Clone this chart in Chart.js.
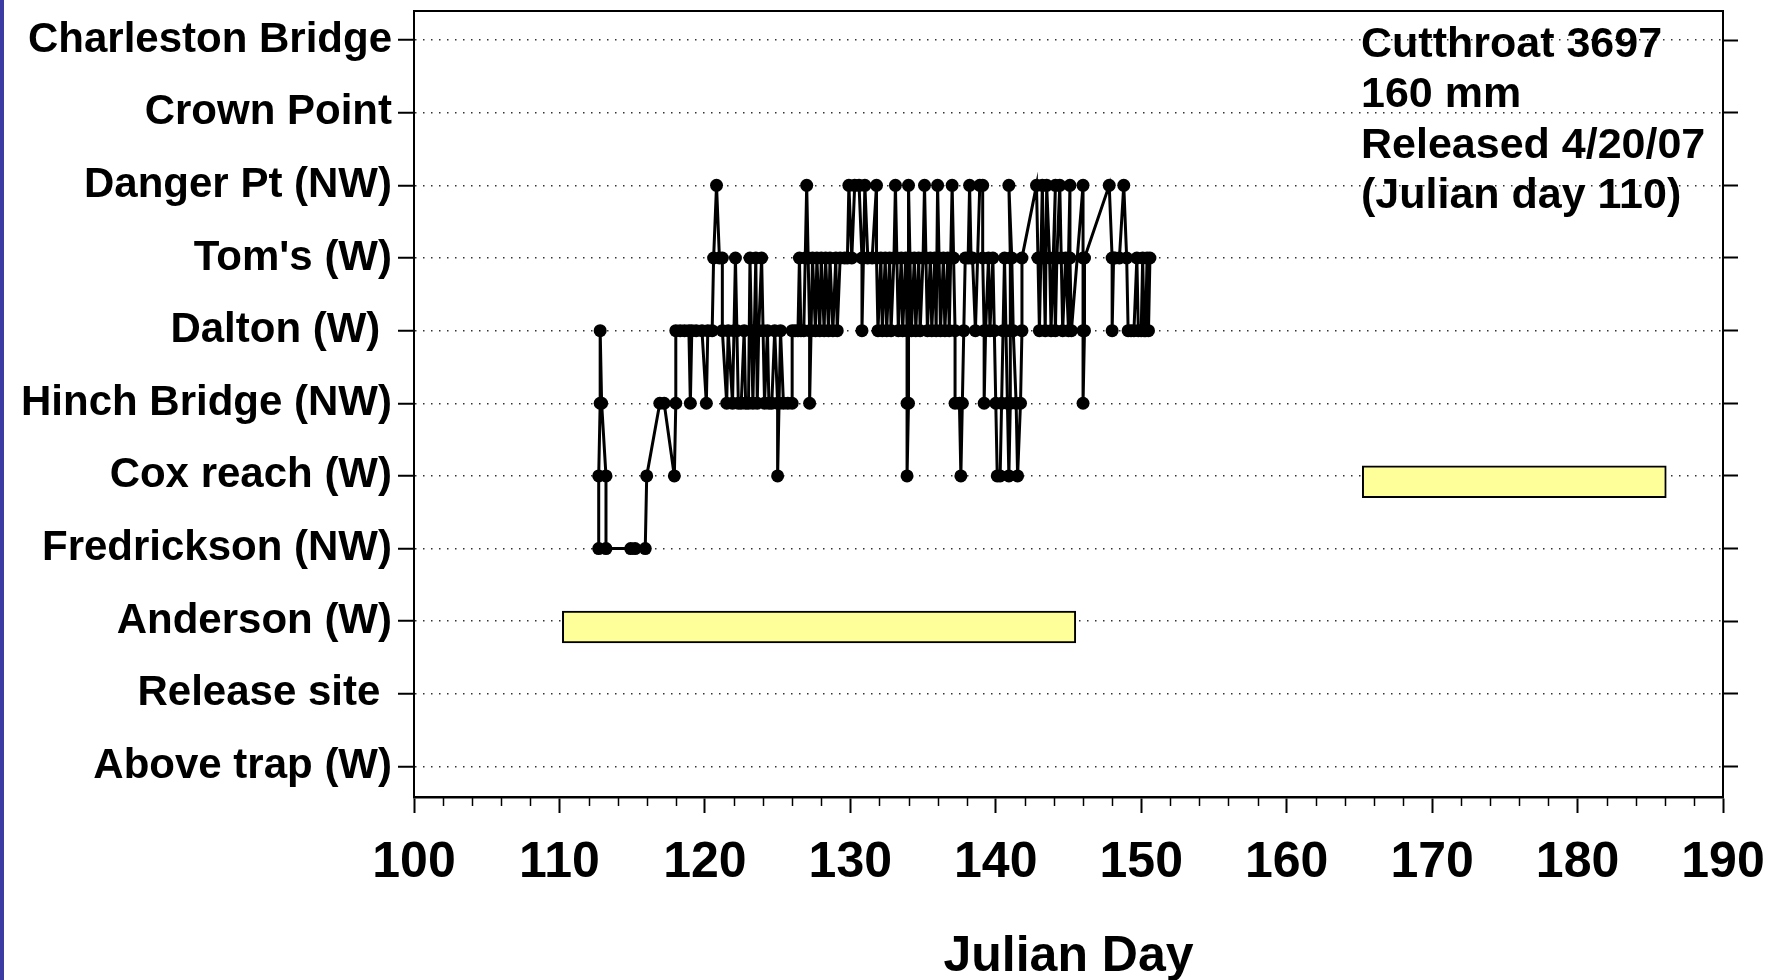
<!DOCTYPE html>
<html>
<head>
<meta charset="utf-8">
<script src="https://cdn.jsdelivr.net/npm/chart.js@4.4.1/dist/chart.umd.min.js"></script>
<style>
  html, body { margin: 0; padding: 0; background: #fff; }
  #wrap { position: relative; width: 1775px; height: 980px; }
  #strip { position: absolute; left: 0; top: 0; width: 4px; height: 980px; background: #3b3ba3; }
</style>
</head>
<body>
<div id="wrap">
  <canvas id="chart" width="1775" height="980"></canvas>
  <div id="strip"></div>
</div>
<script>
// site names, bottom (0) to top (10)
const siteLabels = [
  "Above trap (W)",
  "Release site ",
  "Anderson (W)",
  "Fredrickson (NW)",
  "Cox reach (W)",
  "Hinch Bridge (NW)",
  "Dalton (W) ",
  "Tom's (W)",
  "Danger Pt (NW)",
  "Crown Point",
  "Charleston Bridge"
];

const xTicks = [100, 110, 120, 130, 140, 150, 160, 170, 180, 190];

// detections: julian day and site index (3 Fred, 4 Cox, 5 Hinch, 6 Dalton, 7 Tom's, 8 Danger)
const trackDays = [
  112.7, 112.7, 112.8, 112.8, 112.9, 113.2, 113.2, 114.9, 115.2, 115.9,
  116.0, 116.9, 117.2, 117.9, 118.0, 118.0, 118.3, 118.6, 118.9, 119.0,
  119.1, 119.4, 119.8, 120.1, 120.2, 120.5, 120.6, 120.8, 121.0, 121.2,
  121.2, 121.5, 121.6, 121.9, 122.0, 122.1, 122.2, 122.3, 122.5, 122.7,
  122.8, 123.0, 123.1, 123.2, 123.3, 123.4, 123.5, 123.6, 123.7, 123.9,
  124.0, 124.1, 124.3, 124.4, 124.6, 124.8, 125.0, 125.0, 125.1, 125.2,
  125.4, 125.7, 126.0, 126.0, 126.2, 126.4, 126.5, 126.6, 126.8, 126.9,
  127.0, 127.1, 127.2, 127.2, 127.3, 127.4, 127.6, 127.7, 127.9, 128.0,
  128.2, 128.3, 128.5, 128.6, 128.8, 129.0, 129.1, 129.3, 129.6, 129.8,
  129.9, 130.1, 130.3, 130.6, 130.8, 130.8, 130.9, 131.0, 131.2, 131.5,
  131.8, 131.8, 131.9, 132.1, 132.2, 132.4, 132.5, 132.7, 132.8, 133.0,
  133.1, 133.2, 133.3, 133.5, 133.6, 133.8, 133.9, 133.9, 133.9, 134.0,
  134.0, 134.0, 134.0, 134.1, 134.2, 134.4, 134.5, 134.7, 134.8, 135.0,
  135.1, 135.2, 135.3, 135.5, 135.6, 135.8, 135.9, 136.0, 136.1, 136.2,
  136.4, 136.5, 136.7, 136.8, 137.0, 137.1, 137.2, 137.2, 137.5, 137.6,
  137.7, 137.8, 137.9, 138.1, 138.2, 138.3, 138.4, 138.6, 138.9, 139.1,
  139.1, 139.2, 139.2, 139.3, 139.5, 139.6, 139.8, 139.9, 140.0, 140.1,
  140.3, 140.4, 140.5, 140.6, 140.7, 140.8, 140.9, 141.0, 141.0, 141.0,
  140.9, 141.1, 141.2, 141.4, 141.5, 141.7, 141.8, 141.8, 142.8, 142.9,
  143.0, 143.1, 143.2, 143.3, 143.4, 143.5, 143.7, 143.8, 144.1, 144.0,
  144.1, 144.2, 144.4, 144.5, 144.6, 144.8, 145.0, 145.0, 145.1, 145.1,
  145.2, 146.0, 146.0, 146.0, 146.0, 146.1, 146.1, 147.8, 148.0, 148.0,
  148.1, 148.2, 148.5, 148.8, 149.0, 149.1, 149.3, 149.5, 149.7, 149.8,
  150.0, 150.1, 150.2, 150.3, 150.4, 150.5, 150.6
];
const trackSites = [
  3, 4, 5, 6, 5, 4, 3, 3, 3, 3,
  4, 5, 5, 4, 5, 6, 6, 6, 6, 5,
  6, 6, 6, 5, 6, 6, 7, 8, 7, 7,
  6, 5, 6, 5, 6, 7, 6, 5, 5, 6,
  5, 5, 7, 6, 5, 6, 7, 5, 6, 7,
  6, 5, 6, 5, 5, 6, 5, 4, 5, 6,
  5, 5, 5, 6, 6, 6, 7, 6, 6, 7,
  8, 7, 6, 5, 6, 7, 6, 7, 6, 7,
  6, 7, 6, 7, 6, 7, 6, 7, 7, 7,
  8, 7, 8, 8, 7, 6, 7, 8, 7, 7,
  8, 7, 6, 7, 6, 7, 6, 7, 6, 7,
  8, 7, 6, 7, 6, 7, 6, 5, 4, 5,
  6, 7, 8, 7, 6, 7, 6, 7, 6, 7,
  8, 7, 6, 7, 6, 7, 6, 8, 7, 6,
  7, 6, 7, 6, 8, 7, 6, 5, 5, 4,
  5, 6, 7, 7, 8, 7, 7, 6, 8, 8,
  7, 6, 5, 6, 7, 6, 7, 6, 5, 4,
  4, 5, 6, 7, 6, 5, 4, 5, 6, 7,
  8, 7, 6, 5, 4, 5, 6, 7, 8, 7,
  6, 7, 8, 7, 6, 8, 7, 6, 8, 7,
  6, 7, 8, 7, 6, 7, 6, 7, 8, 7,
  6, 8, 7, 6, 5, 6, 7, 8, 7, 6,
  7, 7, 7, 8, 7, 6, 6, 6, 7, 6,
  6, 7, 6, 6, 7, 6, 7
];

// periods when a site was not monitored (start day, end day, site index)
const gapStarts = [110.2, 165.2];
const gapEnds = [145.5, 186.1];
const gapSites = [2, 4];

const infoLines = ["Cutthroat 3697", "160 mm", "Released 4/20/07", "(Julian day 110)"];

const track = trackDays.map((d, i) => ({ x: d, y: trackSites[i] }));
const gaps = gapStarts.map((s, i) => ({ x: [s, gapEnds[i]], y: gapSites[i] }));

const arial = "'Liberation Sans', Arial, sans-serif";

const extras = {
  id: "extras",
  afterDraw(chart) {
    const { ctx, chartArea } = chart;
    const xs = chart.scales.x;
    ctx.save();
    // minor ticks every 2 days
    ctx.strokeStyle = "#000";
    ctx.lineWidth = 1.5;
    for (let v = 100; v <= 190; v += 2) {
      if (v % 10 === 0) continue;
      const px = Math.round(xs.getPixelForValue(v)) + 0.5;
      ctx.beginPath();
      ctx.moveTo(px, chartArea.bottom);
      ctx.lineTo(px, chartArea.bottom + 9);
      ctx.stroke();
    }
    // frame
    ctx.lineWidth = 2;
    ctx.strokeRect(chartArea.left, chartArea.top, chartArea.right - chartArea.left, chartArea.bottom - chartArea.top);
    // fish info
    ctx.fillStyle = "#000";
    ctx.font = "bold 43px " + arial;
    ctx.textBaseline = "middle";
    infoLines.forEach((t, i) => ctx.fillText(t, 1361, 45 + i * 50.5));
    ctx.restore();
  }
};

const ctx = document.getElementById("chart").getContext("2d");
new Chart(ctx, {
  type: "scatter",
  data: {
    datasets: [
      {
        type: "bar",
        indexAxis: "y",
        yAxisID: "yb",
        data: gaps,
        backgroundColor: "#ffff99",
        borderColor: "#000",
        borderWidth: 2,
        borderSkipped: false,
        barThickness: 32,
        order: 2
      },
      {
        type: "scatter",
        showLine: true,
        data: track,
        borderColor: "#000",
        backgroundColor: "#000",
        borderWidth: 3,
        pointRadius: 6.5,
        pointBorderWidth: 0,
        order: 1
      }
    ]
  },
  options: {
    responsive: false,
    animation: false,
    events: [],
    layout: { padding: { top: 11, left: 0, right: 0, bottom: 0 } },
    plugins: { legend: { display: false }, tooltip: { enabled: false } },
    scales: {
      x: {
        type: "linear",
        position: "bottom",
        min: 100,
        max: 190,
        beginAtZero: false,
        afterBuildTicks: (s) => { s.ticks = xTicks.map((v) => ({ value: v })); },
        ticks: {
          color: "#000",
          padding: 20,
          maxRotation: 0,
          autoSkip: false,
          font: { family: arial, size: 50, weight: "bold" }
        },
        grid: { drawOnChartArea: false, tickLength: 16, tickColor: "#000", tickWidth: 2 },
        border: { color: "#000", width: 2.5 },
        title: {
          display: true,
          text: "Julian Day",
          color: "#000",
          padding: { top: 0, bottom: 0 },
          font: { family: arial, size: 50, weight: "bold", lineHeight: 0.9 }
        },
        afterFit: (s) => { s.height = 183; s.paddingLeft = 0; s.paddingRight = 0; }
      },
      y: {
        type: "linear",
        position: "left",
        min: -0.42,
        max: 10.4,
        offset: false,
        beginAtZero: false,
        ticks: {
          stepSize: 1,
          includeBounds: false,
          autoSkip: false,
          color: "#000",
          padding: 6,
          font: { family: arial, size: 42, weight: "bold" },
          callback: (v) => siteLabels[v] ?? ""
        },
        grid: {
          offset: false,
          color: "#333",
          lineWidth: 1.5,
          tickLength: 16,
          tickColor: "#000",
          tickWidth: 2,
          tickBorderDash: []
        },
        border: { color: "#000", width: 2, dash: [1.5, 6.5] },
        afterFit: (s) => { s.width = 414; s.paddingTop = 0; s.paddingBottom = 0; }
      },
      y2: {
        type: "linear",
        position: "right",
        min: -0.42,
        max: 10.4,
        ticks: { stepSize: 1, includeBounds: false, display: false },
        grid: { drawOnChartArea: false, tickLength: 15, tickColor: "#000", tickWidth: 2 },
        border: { display: false },
        afterFit: (s) => { s.width = 52; s.paddingTop = 0; s.paddingBottom = 0; }
      },
      // same range as y, nudged so the yellow bars sit a little under the grid line as in the source
      yb: {
        type: "linear",
        display: false,
        min: -0.42 + 0.08,
        max: 10.4 + 0.08,
        offset: false,
        beginAtZero: false,
        grid: { offset: false }
      }
    }
  },
  plugins: [extras]
});
</script>
</body>
</html>
